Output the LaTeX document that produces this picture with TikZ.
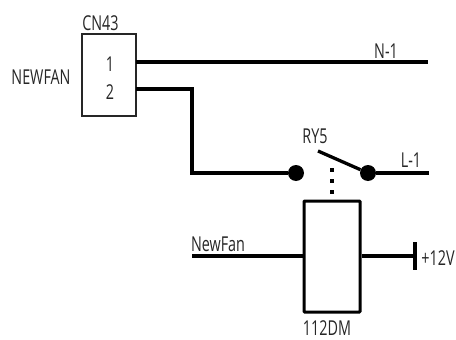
\documentclass[tikz,border=0pt]{standalone}
\usepackage{fontspec}
\setmainfont[FakeStretch=0.7]{Open Sans}
\usetikzlibrary{calc}
\tikzset{label/.style={inner sep=0pt, text=black!85, font=\fontsize{20.5}{20.5}\selectfont}}
\tikzset{contact/.style={circle, fill=black, inner sep=0pt, minimum size=16pt}}
\tikzset{connbox/.style={draw=black!85, line width=1.4pt, rectangle, inner sep=0pt, minimum width=54pt, minimum height=82pt}}
\tikzset{coilbox/.style={draw=black, line width=3pt, rectangle, inner sep=0pt, minimum width=56pt, minimum height=111pt, rounded corners=0.8pt}}
\tikzset{wire/.style={draw, line width=3.3pt}}
\begin{document}
\begin{tikzpicture}[x=1pt, y=-1pt]
		\useasboundingbox (0,0) rectangle (456,340);
		\node [connbox] (cn43) at (109,75) {};
		\node [contact] (left_contact) at (296,173) {};
		\node [contact] (right_contact) at (368,173) {};
		\node [coilbox] (coil) at (332,256.5) {};
		
		\node [label] (cn43_name) at (100.5,23) {CN43};
		\node [label] (newfan_name) at (41,77) {NEWFAN};
		\node [label] (pin1) at (110,64) {1};
		\node [label] (pin2) at (110,92) {2};
		\node [label] (n1) at (386,51.5) {N-1};
		\node [label] (ry5) at (315,136) {RY5};
		\node [label] (l1) at (411,160.5) {L-1};
		\node [label] (newfan_in) at (218,244) {NewFan};
		\node [label] (plus12) at (438,258) {+12V};
		\node [label] (relay) at (327,328.5) {112DM};
		
		\coordinate (pin1_out) at (136,62);
		\coordinate (pin2_out) at (136,89);
		\coordinate (n1_end) at (428,62);
		\coordinate (l1_end) at (429,173);
		\coordinate (newfan_end) at (192,256);
		\coordinate (bar_mid) at (415,256);
		\coordinate (arm_end) at (318,151);
		\coordinate (link_top) at (332,168);
		\coordinate (link_bot) at (332,195);
		
		\path [wire] (pin1_out) -- (n1_end);
		\path [wire] (pin2_out) -| (192,173) -- (left_contact);
		\path [wire] (right_contact) -- (l1_end);
		\path [wire] (arm_end) -- (right_contact);
		\path [wire] (newfan_end) -- (newfan_end -| coil.west);
		\path [wire] (coil.east |- bar_mid) -- (bar_mid);
		\draw [line width=3.4pt] ($(bar_mid)+(0,-14)$) -- ($(bar_mid)+(0,14)$);
		\draw [line width=3.4pt, dash pattern=on 4pt off 7pt] (link_top) -- (link_bot);
		
\end{tikzpicture}
\end{document}
